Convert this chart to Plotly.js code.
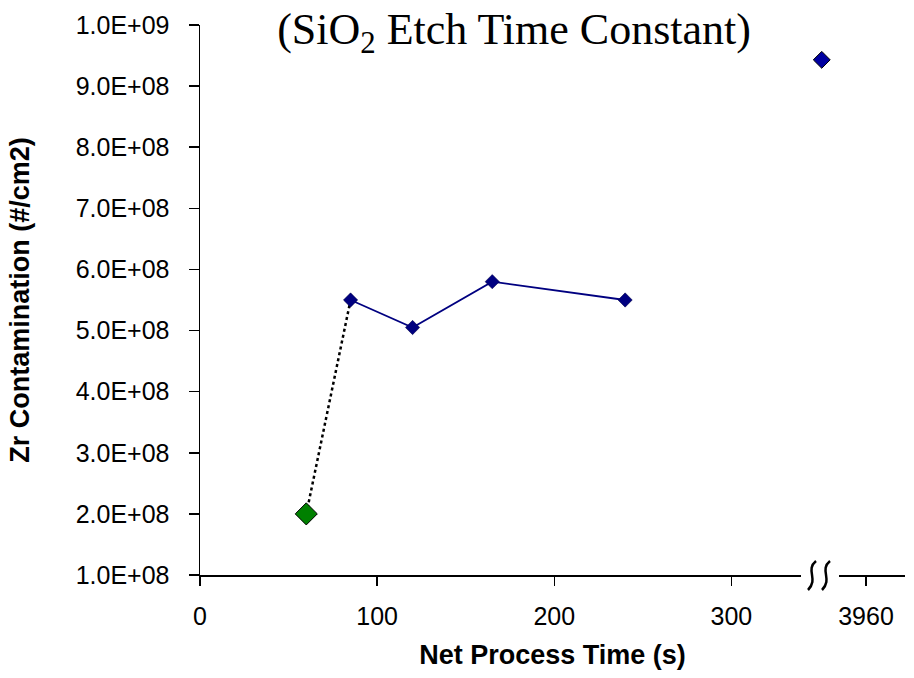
<!DOCTYPE html>
<html>
<head>
<meta charset="utf-8">
<script src="https://cdn.plot.ly/plotly-3.0.1.min.js"></script>
<style>html,body{margin:0;padding:0;background:#fff;}#chart{width:914px;height:678px;}</style>
</head>
<body>
<div id="chart"></div>
<script>
// ---- data ----
var refTime = [60];                 // green reference point (s)
var refZr = [2.0e8];
var seriesTime = [85, 120, 165, 240];   // s
var seriesZr = [5.5e8, 5.05e8, 5.8e8, 5.5e8];
var farTime = [3935];               // beyond axis break
var farZr = [9.43e8];
var xTickTimes = [0, 100, 200, 300, 3960];
var xTickLabels = ['0', '100', '200', '300', '3960'];
var yTickVals = [1e8, 2e8, 3e8, 4e8, 5e8, 6e8, 7e8, 8e8, 9e8, 1e9];
var yTickLabels = ['1.0E+08', '2.0E+08', '3.0E+08', '4.0E+08', '5.0E+08', '6.0E+08', '7.0E+08', '8.0E+08', '9.0E+08', '1.0E+09'];

// axis break mapping: 3960 s is drawn at axis position 376
var BREAK_AT = 3960, BREAK_POS = 376;
function toAxis(t) { return t < 1000 ? t : BREAK_POS + (t - BREAK_AT); }

var navy = '#000080';
var sans = 'Arial, "Liberation Sans", sans-serif';

var traces = [
  { // dotted link from reference point to first series point
    x: [toAxis(refTime[0]), toAxis(seriesTime[0])],
    y: [refZr[0], seriesZr[0]],
    mode: 'lines', line: {color: '#000', width: 2.5, dash: 'dot'},
    hoverinfo: 'skip', showlegend: false
  },
  {
    x: seriesTime.map(toAxis), y: seriesZr,
    mode: 'lines+markers',
    line: {color: navy, width: 1.8},
    marker: {symbol: 'diamond', size: 11, color: navy, line: {color: '#000040', width: 0.5}},
    showlegend: false
  },
  {
    x: refTime.map(toAxis), y: refZr,
    mode: 'markers',
    marker: {symbol: 'diamond', size: 17, color: '#008000', line: {color: '#000', width: 1}},
    showlegend: false
  },
  {
    x: farTime.map(toAxis), y: farZr,
    mode: 'markers',
    marker: {symbol: 'diamond', size: 13, color: '#0000a0', line: {color: '#000', width: 1}},
    showlegend: false
  }
];

// helpers for break decoration (pixel -> axis/paper)
var L = 200, T = 25, W = 705, H = 550, XMAX = 398;
function px2x(p) { return (p - L) / W * XMAX; }
function py2p(p) { return (T + H - p) / H; }
function squiggle(cx) {
  var top = 561, bot = 590;
  return 'M' + px2x(cx + 4) + ',' + py2p(top) +
         ' C' + px2x(cx - 7) + ',' + py2p(top + 9) + ' ' + px2x(cx + 7) + ',' + py2p(bot - 11) + ' ' + px2x(cx - 4) + ',' + py2p(bot);
}

var layout = {
  width: 914, height: 678,
  margin: {l: L, r: 914 - L - W, t: T, b: 678 - T - H},
  paper_bgcolor: '#fff', plot_bgcolor: '#fff',
  title: {
    text: '(SiO<sub>2</sub> Etch Time Constant)',
    font: {family: '"Liberation Serif", "Times New Roman", serif', size: 44, color: '#000'},
    x: 0.5624, xanchor: 'center', xref: 'container',
    y: 0.958, yanchor: 'middle', yref: 'container'
  },
  xaxis: {
    range: [0, XMAX], showgrid: false, zeroline: false,
    showline: true, linecolor: '#000', linewidth: 1.5,
    ticks: 'outside', ticklen: 9, tickwidth: 1.5, tickcolor: '#000',
    tickvals: xTickTimes.map(toAxis), ticktext: xTickLabels,
    tickfont: {family: sans, size: 25, color: '#000'},
    ticklabelstandoff: 9,
    title: {text: 'Net Process Time (s)', font: {family: sans, size: 27, color: '#000', weight: 'bold'}, standoff: 16}
  },
  yaxis: {
    range: [1e8, 1e9], showgrid: false, zeroline: false,
    showline: true, linecolor: '#000', linewidth: 1.5,
    ticks: 'outside', ticklen: 10, tickwidth: 1.5, tickcolor: '#000',
    tickvals: yTickVals, ticktext: yTickLabels,
    tickfont: {family: sans, size: 25, color: '#000'},
    ticklabelstandoff: 14,
    title: {text: 'Zr Contamination (#/cm2)', font: {family: sans, size: 27, color: '#000', weight: 'bold'}, standoff: 38}
  },
  shapes: [
    {type: 'rect', xref: 'x', yref: 'paper', x0: px2x(801), x1: px2x(839), y0: py2p(570), y1: py2p(580),
     fillcolor: '#fff', line: {width: 0}, layer: 'above'},
    {type: 'path', xref: 'x', yref: 'paper', path: squiggle(812), line: {color: '#000', width: 2.5}, layer: 'above'},
    {type: 'path', xref: 'x', yref: 'paper', path: squiggle(826), line: {color: '#000', width: 2.5}, layer: 'above'}
  ]
};

Plotly.newPlot('chart', traces, layout, {displayModeBar: false, staticPlot: true});
</script>
</body>
</html>
